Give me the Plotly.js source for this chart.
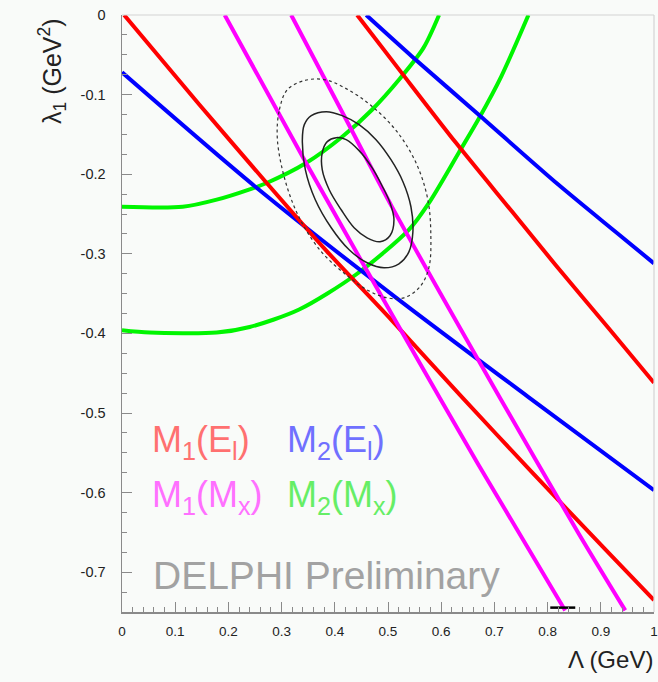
<!DOCTYPE html>
<html>
<head>
<meta charset="utf-8">
<script src="https://cdn.plot.ly/plotly-3.0.1.min.js"></script>
<style>
html,body{margin:0;padding:0;background:#f9fbf9;}
#chart{width:658px;height:682px;}
</style>
</head>
<body>
<div id="chart"></div>
<script>
// ---- Data (x = Lambda [GeV], y = lambda1 [GeV^2]) ----
var red1X = [0.004, 0.146, 0.272, 0.384, 0.502, 0.639, 0.770, 0.908, 1.0];
var red1Y = [0, -0.113, -0.211, -0.296, -0.380, -0.480, -0.574, -0.671, -0.735];
var red2X = [0.442, 0.521, 0.627, 0.732, 0.815, 0.914, 1.0];
var red2Y = [0, -0.0686, -0.160, -0.246, -0.314, -0.393, -0.462];

var blue1X = [0, 0.253, 0.515, 0.764, 1.0];
var blue1Y = [-0.072, -0.217, -0.355, -0.480, -0.597];
var blue2X = [0.459, 0.545, 0.670, 0.820, 0.927, 1.0];
var blue2Y = [0, -0.052, -0.125, -0.213, -0.272, -0.312];

var mag1X = [0.193, 0.346, 0.538, 0.670, 0.833];
var mag1Y = [0, -0.186, -0.412, -0.565, -0.748];
var mag2X = [0.318, 0.421, 0.5075, 0.713, 0.858, 0.946];
var mag2Y = [0, -0.131, -0.241, -0.484, -0.651, -0.748];

var green1X = [0, 0.114, 0.178, 0.240, 0.272, 0.346, 0.414, 0.470, 0.521, 0.567, 0.596];
var green1Y = [-0.241, -0.241, -0.232, -0.219, -0.211, -0.186, -0.153, -0.119, -0.081, -0.041, 0];
var green2X = [0, 0.052, 0.178, 0.240, 0.333, 0.440, 0.539, 0.577, 0.633, 0.670, 0.713, 0.764];
var green2Y = [-0.396, -0.399, -0.399, -0.392, -0.370, -0.326, -0.270, -0.236, -0.173, -0.131, -0.077, 0];

var innerX = [0.3764, 0.3764, 0.3858, 0.4026, 0.4213, 0.4457, 0.4700, 0.4888, 0.5037, 0.5112, 0.5037, 0.4850, 0.4607, 0.4363, 0.4120, 0.3895, 0.3764];
var innerY = [-0.1943, -0.1730, -0.1591, -0.1541, -0.1566, -0.1704, -0.1918, -0.2145, -0.2358, -0.2572, -0.2774, -0.2849, -0.2799, -0.2673, -0.2447, -0.2195, -0.1943];

var midX = [0.3390, 0.3427, 0.3558, 0.3839, 0.4139, 0.4457, 0.4775, 0.5056, 0.5281, 0.5431, 0.5468, 0.5393, 0.5206, 0.4925, 0.4607, 0.4270, 0.3933, 0.3633, 0.3446, 0.3390];
var midY = [-0.1566, -0.1377, -0.1264, -0.1214, -0.1264, -0.1377, -0.1566, -0.1818, -0.2094, -0.2409, -0.2723, -0.2975, -0.3126, -0.3176, -0.3113, -0.2950, -0.2673, -0.2321, -0.1943, -0.1566];

var outX = [0.2921, 0.2959, 0.3109, 0.3427, 0.3801, 0.4213, 0.4682, 0.5169, 0.5543, 0.5749, 0.5805, 0.5768, 0.5599, 0.5300, 0.4981, 0.4607, 0.4213, 0.3764, 0.3371, 0.3090, 0.2921];
var outY = [-0.1566, -0.1189, -0.0937, -0.0824, -0.0811, -0.0925, -0.1138, -0.1465, -0.1881, -0.2321, -0.2761, -0.3176, -0.3415, -0.3553, -0.3553, -0.3453, -0.3264, -0.2987, -0.2597, -0.2132, -0.1566];

var barX = [0.805, 0.852];
var barY = [-0.7445, -0.7445];

var xTickVals = [0, 0.1, 0.2, 0.3, 0.4, 0.5, 0.6, 0.7, 0.8, 0.9, 1];
var xTickText = ['0', '0.1', '0.2', '0.3', '0.4', '0.5', '0.6', '0.7', '0.8', '0.9', '1'];
var yTickVals = [0, -0.1, -0.2, -0.3, -0.4, -0.5, -0.6, -0.7];
var yTickText = ['0', '-0.1', '-0.2', '-0.3', '-0.4', '-0.5', '-0.6', '-0.7'];

var labelTexts = ['M<sub>1</sub>(E<sub>l</sub>)', 'M<sub>2</sub>(E<sub>l</sub>)', 'M<sub>1</sub>(M<sub>x</sub>)', 'M<sub>2</sub>(M<sub>x</sub>)'];
var stampText = 'DELPHI Preliminary';

// ---- Traces ----
function band(x, y, color) {
  return {x: x, y: y, mode: 'lines', type: 'scatter', hoverinfo: 'skip',
          line: {color: color, width: 4, shape: 'spline', smoothing: 0.8}};
}
function contour(x, y, width, dash, color) {
  return {x: x, y: y, mode: 'lines', type: 'scatter', hoverinfo: 'skip',
          line: {color: color, width: width, dash: dash, shape: 'spline', smoothing: 1}};
}
var traces = [
  band(green1X, green1Y, '#00f500'),
  band(green2X, green2Y, '#00f500'),
  band(blue1X, blue1Y, '#0000ff'),
  band(blue2X, blue2Y, '#0000ff'),
  band(red1X, red1Y, '#ff0000'),
  band(red2X, red2Y, '#ff0000'),
  band(mag1X, mag1Y, '#ff00ff'),
  band(mag2X, mag2Y, '#ff00ff'),
  contour(outX, outY, 1.2, 'dot', '#333333'),
  contour(midX, midY, 1.5, 'solid', '#222222'),
  contour(innerX, innerY, 1.5, 'solid', '#222222'),
  {x: barX, y: barY, mode: 'lines', type: 'scatter', hoverinfo: 'skip',
   line: {color: '#000000', width: 2.5}}
];

var ML = 122, MT = 15, PW = 532, PH = 597;
function px2paperX(px) { return (px - ML) / PW; }
function px2paperY(py) { return (MT + PH - py) / PH; }

var labelFont = 'Liberation Sans, Arial, sans-serif';
var annotations = [
  {text: labelTexts[0], x: px2paperX(150), y: px2paperY(442), xanchor: 'left', yanchor: 'middle',
   font: {family: labelFont, size: 36, color: '#ff7070'}},
  {text: labelTexts[1], x: px2paperX(285), y: px2paperY(442), xanchor: 'left', yanchor: 'middle',
   font: {family: labelFont, size: 36, color: '#7070ff'}},
  {text: labelTexts[2], x: px2paperX(150), y: px2paperY(497), xanchor: 'left', yanchor: 'middle',
   font: {family: labelFont, size: 36, color: '#ff70ff'}},
  {text: labelTexts[3], x: px2paperX(285), y: px2paperY(497), xanchor: 'left', yanchor: 'middle',
   font: {family: labelFont, size: 36, color: '#66ee66'}},
  {text: stampText, x: px2paperX(151), y: px2paperY(575), xanchor: 'left', yanchor: 'middle',
   font: {family: labelFont, size: 39, color: '#a2a2a2'}},
  {text: 'λ<sub>1</sub> (GeV<sup>2</sup>)', textangle: -90, x: px2paperX(52), y: px2paperY(16),
   xanchor: 'center', yanchor: 'top', font: {family: labelFont, size: 25, color: '#222222'}},
  {text: 'Λ (GeV)', x: px2paperX(655), y: px2paperY(660), xanchor: 'right', yanchor: 'middle',
   font: {family: labelFont, size: 24, color: '#222222'}}
];
annotations.forEach(function (a) { a.xref = 'paper'; a.yref = 'paper'; a.showarrow = false; });

var layout = {
  width: 658, height: 682,
  margin: {l: ML, r: 658 - ML - PW, t: MT, b: 682 - MT - PH, pad: 0},
  paper_bgcolor: '#f9fbf9', plot_bgcolor: '#f9fbf9',
  showlegend: false,
  font: {family: labelFont, size: 14, color: '#222222'},
  xaxis: {
    range: [0, 1], showgrid: false, zeroline: false,
    showline: true, linecolor: '#8a8a8a', linewidth: 1.5,
    ticks: 'inside', ticklen: 10, tickwidth: 1, tickcolor: '#8a8a8a',
    tickmode: 'array', tickvals: xTickVals, ticktext: xTickText,
    ticklabelstandoff: 6, ticklabeloverflow: 'allow',
    tickfont: {family: labelFont, size: 13.5, color: '#222222'},
    minor: {ticks: 'inside', ticklen: 5, tickwidth: 1, tickcolor: '#8a8a8a',
            tickmode: 'linear', tick0: 0, dtick: 0.02, showgrid: false}
  },
  yaxis: {
    range: [-0.75, 0], showgrid: false, zeroline: false,
    showline: true, linecolor: '#8a8a8a', linewidth: 1.5,
    ticks: 'inside', ticklen: 10, tickwidth: 1, tickcolor: '#8a8a8a',
    tickmode: 'array', tickvals: yTickVals, ticktext: yTickText,
    ticklabelstandoff: 12, ticklabeloverflow: 'allow',
    tickfont: {family: labelFont, size: 14.5, color: '#222222'},
    minor: {ticks: 'inside', ticklen: 5, tickwidth: 1, tickcolor: '#8a8a8a',
            tickmode: 'linear', tick0: 0, dtick: 0.025, showgrid: false}
  },
  shapes: [
    {type: 'line', xref: 'paper', yref: 'paper', x0: 0, x1: 1, y0: 1, y1: 1,
     line: {color: '#d4d4d4', width: 1.2}},
    {type: 'line', xref: 'paper', yref: 'paper', x0: 1, x1: 1, y0: 0, y1: 1,
     line: {color: '#d4d4d4', width: 1.2}}
  ],
  annotations: annotations
};

Plotly.newPlot('chart', traces, layout, {displayModeBar: false, staticPlot: true});
</script>
</body>
</html>
